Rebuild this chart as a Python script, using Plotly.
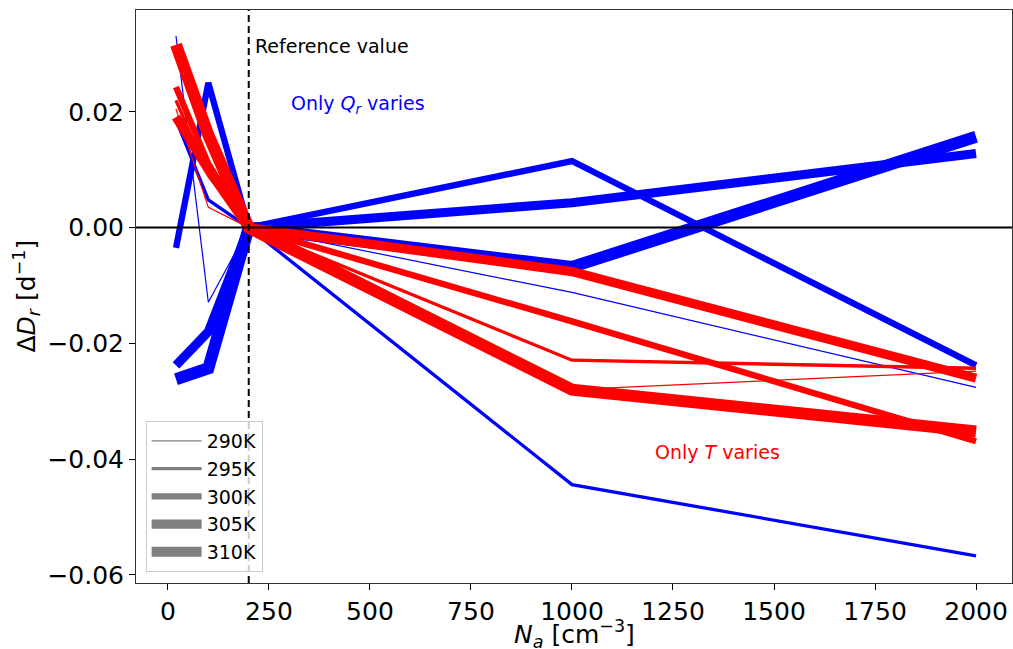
import plotly.graph_objects as go

# ---- data ----
na_values = [20, 100, 200, 1000, 2000]
temps = ["290K", "295K", "300K", "305K", "310K"]

qr_varies_290 = [0.0331, -0.0129, 0.0, -0.0112, -0.0276]
qr_varies_295 = [0.0186, 0.0048, 0.0, -0.0444, -0.0567]
qr_varies_300 = [-0.0035, 0.0250, 0.0, 0.0115, -0.0238]
qr_varies_305 = [-0.0238, -0.0180, 0.0, 0.0043, 0.0128]
qr_varies_310 = [-0.0262, -0.0243, 0.0, -0.0068, 0.0157]

t_varies_290 = [0.0205, 0.0035, 0.0, -0.0280, -0.0248]
t_varies_295 = [0.0220, 0.0090, 0.0, -0.0229, -0.0243]
t_varies_300 = [0.0243, 0.0110, 0.0, -0.0162, -0.0369]
t_varies_305 = [0.0191, 0.0100, 0.0, -0.0076, -0.0260]
t_varies_310 = [0.0316, 0.0160, 0.0, -0.0280, -0.0352]

reference_na = 200
x_ticks = [0, 250, 500, 750, 1000, 1250, 1500, 1750, 2000]
y_ticks = [-0.06, -0.04, -0.02, 0.0, 0.02]

# ---- style ----
widths = [1.2, 3.3, 6.3, 9.2, 12]
FONT = "DejaVu Sans"

qr_series = [qr_varies_290, qr_varies_295, qr_varies_300, qr_varies_305, qr_varies_310]
t_series = [t_varies_290, t_varies_295, t_varies_300, t_varies_305, t_varies_310]

fig = go.Figure()

for ys, w in zip(qr_series, widths):
    fig.add_trace(go.Scatter(x=na_values, y=ys, mode="lines",
                             line=dict(color="#0000ff", width=w),
                             showlegend=False, hoverinfo="skip"))
for ys, w in zip(t_series, widths):
    fig.add_trace(go.Scatter(x=na_values, y=ys, mode="lines",
                             line=dict(color="#ff0000", width=w),
                             showlegend=False, hoverinfo="skip"))

# legend entries
for name, w in zip(temps, widths):
    fig.add_trace(go.Scatter(x=[None], y=[None], mode="lines", name=name,
                             line=dict(color="#808080", width=w)))

# reference lines
fig.add_hline(y=0, line=dict(color="black", width=2), layer="above")
fig.add_vline(x=reference_na, line=dict(color="black", width=2, dash="7px,4px"), layer="above")

fig.add_annotation(x=210, y=0.0313, text="Reference value", showarrow=False,
                   xanchor="left", yanchor="middle",
                   font=dict(family=FONT, size=19, color="black"))
fig.add_annotation(x=300, y=0.0213, text="Only <i>Q<sub>r</sub></i> varies", showarrow=False,
                   xanchor="left", yanchor="middle",
                   font=dict(family=FONT, size=19, color="#0000ff"))
fig.add_annotation(x=1200, y=-0.0387, text="Only <i>T</i> varies", showarrow=False,
                   xanchor="left", yanchor="middle",
                   font=dict(family=FONT, size=19, color="#ff0000"))

# axis titles as annotations (exact placement)
fig.add_annotation(xref="paper", yref="paper", x=0.5, y=0, yanchor="top", xanchor="center",
                   yshift=-31, showarrow=False,
                   text="<i>N<sub>a</sub></i> [cm<sup>−3</sup>]",
                   font=dict(family=FONT, size=25, color="black"))
fig.add_annotation(xref="paper", yref="paper", x=0, y=0.5, xanchor="right", yanchor="middle",
                   xshift=-90, textangle=-90, showarrow=False,
                   text="Δ<i>D<sub>r</sub></i> [d<sup>−1</sup>]",
                   font=dict(family=FONT, size=25, color="black"))

fig.update_layout(
    width=1013, height=649,
    margin=dict(l=136, r=1, t=10, b=66),
    paper_bgcolor="white", plot_bgcolor="white",
    font=dict(family=FONT, size=25, color="black"),
    legend=dict(x=0.011, y=0.019, xanchor="left", yanchor="bottom",
                bgcolor="rgba(255,255,255,0.8)", bordercolor="#cccccc", borderwidth=1,
                font=dict(family=FONT, size=19, color="black"),
                itemwidth=50, tracegroupgap=0),
)

fig.update_xaxes(range=[-79, 2089], tickvals=x_ticks, ticks="outside", ticklen=6,
                 tickwidth=1, tickcolor="black", showline=True, linecolor="#333333",
                 linewidth=1, mirror=True, showgrid=False, zeroline=False,
                 automargin=False, tickfont=dict(family=FONT, size=25))
fig.update_yaxes(range=[-0.0614, 0.0376], tickvals=y_ticks, tickformat=".2f",
                 ticks="outside", ticklen=6, tickwidth=1, tickcolor="black",
                 showline=True, linecolor="#333333", linewidth=1, mirror=True,
                 showgrid=False, zeroline=False,
                 automargin=False, tickfont=dict(family=FONT, size=25))

fig.write_html("out.html",
               config={"displayModeBar": False},
               post_script="document.body.style.margin='0';document.body.style.overflow='hidden';")
